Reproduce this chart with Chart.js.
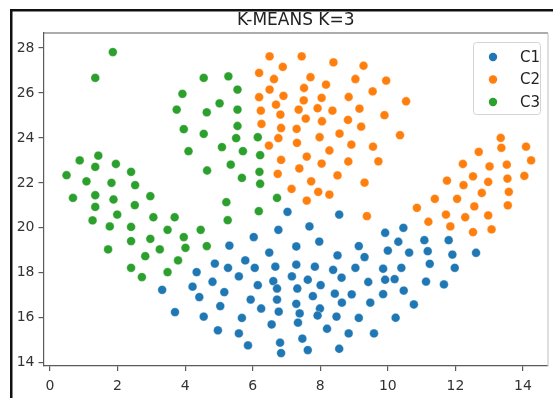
<!DOCTYPE html>
<html>
<head>
<meta charset="utf-8">
<script src="https://cdn.jsdelivr.net/npm/chart.js@4/dist/chart.umd.min.js"></script>
<style>
  html, body { margin: 0; padding: 0; background: #fff; overflow: hidden; }
  canvas { display: block; }
</style>
</head>
<body>
<canvas id="chart" width="553" height="398"></canvas>
<script>
const TITLE = 'K-MEANS K=3';
const SERIES_NAMES = ['C1', 'C2', 'C3'];
const SERIES_COLORS = ['#1f77b4', '#ff7f0e', '#2ca02c'];
const X_TICKS = [0, 2, 4, 6, 8, 10, 12, 14];
const Y_TICKS = [14, 16, 18, 20, 22, 24, 26, 28];

// cluster points [x, y]
const C1 = [
  [7.03,20.71],[8.56,20.59],[6.76,19.91],[7.68,20.06],[6.03,19.59],[5.31,19.21],[7.29,19.17],
  [7.97,19.39],[6.49,18.90],[8.51,18.77],[9.92,19.78],[10.46,20.0],[9.14,19.19],[9.31,18.70],
  [10.0,18.99],[10.31,19.38],[10.63,18.90],[11.08,19.45],[11.18,18.96],[11.80,19.45],[11.91,18.81],
  [12.61,18.89],[11.24,18.40],[11.98,18.22],[11.13,17.61],[11.66,17.48],[10.40,18.22],[9.86,18.18],
  [9.04,18.22],[8.38,18.13],[8.63,17.78],[7.84,18.27],[7.29,18.36],[6.67,18.27],[6.06,18.22],
  [5.78,18.55],[5.27,18.22],[4.88,18.41],[4.34,18.03],[5.59,17.84],[4.81,17.6],[4.22,17.38],
  [3.32,17.24],[4.42,16.92],[5.16,17.14],[6.15,17.45],[6.61,17.63],[6.72,17.3],[7.16,17.84],
  [7.32,17.3],[7.63,17.69],[8.01,17.45],[9.42,17.59],[9.92,17.69],[10.2,17.72],[10.47,17.21],
  [9.86,17.05],[8.93,17.04],[8.43,17.07],[7.78,16.96],[6.72,16.81],[7.29,16.62],[5.94,16.81],
  [5.04,16.52],[3.70,16.25],[4.55,16.05],[6.25,16.41],[6.77,16.27],[7.39,16.19],[7.99,16.41],
  [7.92,16.1],[8.64,16.67],[9.48,16.67],[10.77,16.59],[5.68,15.99],[7.34,15.78],[8.48,16.05],
  [9.14,15.99],[10.23,16.0],[6.56,15.70],[4.97,15.44],[5.59,15.30],[8.2,15.51],[8.84,15.30],
  [9.59,15.30],[7.47,15.07],[5.86,14.77],[6.81,14.89],[7.63,14.56],[8.56,14.62],[6.84,14.43]
];
const C2 = [
  [6.5,27.63],[7.45,27.63],[6.89,27.16],[8.39,27.36],[9.28,27.21],[6.19,26.89],[6.63,26.62],
  [7.71,26.70],[9.04,26.62],[9.95,26.55],[8.17,26.37],[6.5,26.15],[7.52,26.22],[9.55,26.07],
  [6.19,25.81],[6.91,25.87],[7.51,25.67],[8.04,25.78],[8.84,25.82],[10.54,25.63],[6.24,25.21],
  [6.69,25.48],[6.82,25.04],[7.36,25.26],[7.92,25.32],[8.36,25.21],[9.16,25.30],[9.90,25.01],
  [6.26,24.62],[7.57,24.86],[8.05,24.74],[8.82,24.80],[9.21,24.50],[6.84,24.44],[7.30,24.40],
  [8.57,24.19],[7.98,24.03],[10.36,24.12],[6.48,23.66],[6.76,23.99],[7.31,23.78],[8.92,23.70],
  [9.56,23.61],[8.27,23.44],[6.84,23.02],[7.60,23.17],[8.04,22.86],[8.83,22.95],[9.72,22.96],
  [7.38,22.64],[6.74,22.4],[8.51,22.33],[9.31,22.01],[7.73,22.07],[7.15,21.73],[7.94,21.6],
  [8.27,21.48],[7.60,21.21],[9.38,20.52],
  [10.86,20.89],[11.20,20.27],[11.39,21.29],[11.72,20.59],[11.75,22.1],[11.85,20.06],[12.05,21.29],
  [12.22,22.84],[12.24,21.9],[12.29,20.47],[12.52,22.29],[12.56,20.95],[12.52,19.81],[12.69,23.38],
  [12.78,21.55],[12.97,22.04],[13.01,22.73],[12.97,20.55],[13.07,19.93],[13.34,24.0],[13.36,23.56],
  [13.52,22.81],[13.54,22.19],[13.58,21.6],[13.55,21.0],[14.09,23.61],[14.24,23.0],[14.04,22.31]
];
const C3 = [
  [1.86,27.82],[1.34,26.67],[0.49,22.34],[0.68,21.33],[0.88,23.0],[1.08,22.07],[1.43,23.21],
  [1.34,22.71],[1.34,21.45],[1.34,20.93],[1.26,20.33],[1.72,19.04],[1.77,20.06],[1.82,22.0],
  [1.95,22.84],[1.88,21.26],[1.99,20.59],[2.40,22.49],[2.52,21.9],[2.51,21.01],[2.40,20.04],
  [2.40,19.41],[2.40,18.22],[2.72,17.81],[2.82,18.74],[2.97,19.51],[2.97,21.41],[3.06,20.47],
  [3.25,19.04],[3.48,19.91],[3.48,18.03],[3.69,20.47],[3.79,18.55],[3.96,19.59],[4.01,19.11],
  [4.46,19.91],[4.64,19.19],
  [3.75,25.26],[3.92,25.96],[3.96,24.39],[4.10,23.41],[4.55,26.67],[4.64,25.14],[4.55,24.18],
  [4.65,22.55],[5.02,25.54],[5.09,23.59],[5.28,26.74],[5.55,26.15],[5.55,25.26],[5.55,24.53],
  [5.51,23.99],[5.35,22.81],[5.71,23.41],[5.68,22.22],[5.22,21.14],[5.26,20.34],[6.15,24.03],
  [6.22,23.23],[6.20,22.49],[6.22,21.96],[6.18,20.74],[6.72,21.33]
];

const FONT = 'DejaVu Sans';

// white page, black screenshot edge, title, axes frame and legend box
const decorations = {
  id: 'decorations',
  beforeDraw(chart) {
    const c = chart.ctx;
    c.save();
    c.fillStyle = '#fff';
    c.fillRect(0, 0, chart.width, chart.height);
    c.fillStyle = '#111';
    c.fillRect(10, 9, chart.width - 10, 2.5);
    c.fillRect(10, 9, 2.5, chart.height - 9);
    c.restore();
  },
  afterDraw(chart) {
    const c = chart.ctx;
    const a = chart.chartArea;
    c.save();
    c.strokeStyle = '#5a5a5a';
    c.lineWidth = 1.2;
    c.beginPath();
    c.moveTo(a.left, a.top);
    c.lineTo(a.right, a.top);
    c.stroke();
    c.strokeStyle = '#c8c8c8';
    c.beginPath();
    c.moveTo(a.right, a.top);
    c.lineTo(a.right, a.bottom);
    c.stroke();

    c.fillStyle = '#222';
    c.font = '17px "' + FONT + '"';
    c.textAlign = 'center';
    c.textBaseline = 'middle';
    c.fillText(TITLE, (a.left + a.right) / 2, 21);

    // legend
    const bx = 473, by = 42, bw = 67, bh = 72;
    c.fillStyle = 'rgba(255,255,255,0.9)';
    c.strokeStyle = '#d4d4d4';
    c.lineWidth = 1;
    c.beginPath();
    c.roundRect(bx + 0.5, by + 0.5, bw, bh, 3);
    c.fill();
    c.stroke();
    c.font = '15px "' + FONT + '"';
    c.textAlign = 'left';
    SERIES_NAMES.forEach((name, i) => {
      const y = by + 15 + i * 22.5;
      c.fillStyle = SERIES_COLORS[i];
      c.beginPath();
      c.arc(bx + 20, y, 4.2, 0, Math.PI * 2);
      c.fill();
      c.fillStyle = '#222';
      c.fillText(name, bx + 47, y + 1);
    });
    c.restore();
  }
};

const toPoints = arr => arr.map(p => ({ x: p[0], y: p[1] }));

new Chart(document.getElementById('chart'), {
  type: 'scatter',
  data: {
    datasets: [C1, C2, C3].map((pts, i) => ({
      label: SERIES_NAMES[i],
      data: toPoints(pts),
      backgroundColor: SERIES_COLORS[i],
      borderColor: 'rgba(255,255,255,0.6)',
      borderWidth: 0.6,
      pointRadius: 4.4,
      pointHoverRadius: 4.4
    }))
  },
  options: {
    responsive: false,
    animation: false,
    layout: { padding: { top: 33, right: 4, left: 0, bottom: 0 } },
    plugins: {
      legend: { display: false },
      title: { display: false },
      tooltip: { enabled: false }
    },
    scales: {
      x: {
        type: 'linear',
        min: -0.192,
        max: 14.74,
        afterFit: s => { s.height = 32; },
        afterBuildTicks: s => { s.ticks = X_TICKS.map(v => ({ value: v })); },
        grid: { drawOnChartArea: false, drawTicks: true, tickLength: 5, color: '#5a5a5a', lineWidth: 1.2 },
        border: { display: true, color: '#5a5a5a', width: 1.2 },
        ticks: { color: '#333', font: { family: FONT, size: 14 }, padding: 7, maxRotation: 0 }
      },
      y: {
        type: 'linear',
        min: 13.853,
        max: 28.667,
        afterFit: s => { s.width = 43.5; },
        afterBuildTicks: s => { s.ticks = Y_TICKS.map(v => ({ value: v })); },
        grid: { drawOnChartArea: false, drawTicks: true, tickLength: 5, color: '#5a5a5a', lineWidth: 1.2 },
        border: { display: true, color: '#5a5a5a', width: 1.2 },
        ticks: { color: '#333', font: { family: FONT, size: 14 }, padding: 4 }
      }
    }
  },
  plugins: [decorations]
});
</script>
</body>
</html>
